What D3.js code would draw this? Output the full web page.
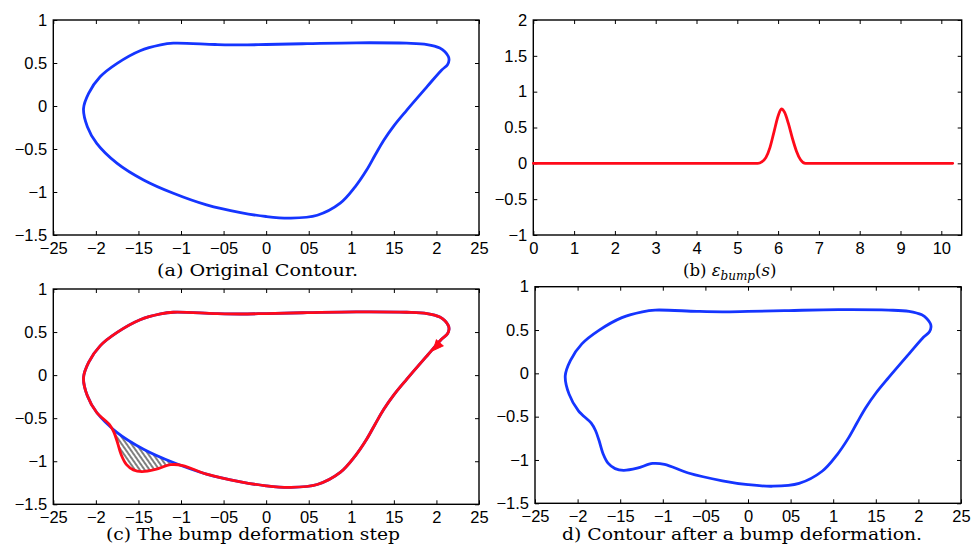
<!DOCTYPE html>
<html>
<head>
<meta charset="utf-8">
<script src="https://cdn.jsdelivr.net/npm/d3@7"></script>
<style>
	body { margin: 0; background: #fff; }
	svg { display: block; }
	.tick text { font-family: 'Liberation Sans', Arial, sans-serif; font-size: 16.5px; fill: #000; }
	.tick line { stroke: #000; stroke-width: 1; }
	.caption { font-family: 'DejaVu Serif', serif; font-size: 16.5px; fill: #000; }
</style>
</head>
<body>
<div id="chart"></div>
<script>
// contour, clockwise on screen, starting top-left
const contourX = [-1.09, -0.6, -0.3, 0.0, 0.48, 1.06, 1.65, 1.89, 2.04, 2.1, 2.14, 2.148, 2.13, 2.062, 1.89, 1.65, 1.5, 1.38, 1.28, 1.18, 1.045, 0.87, 0.6, 0.28, 0.0, -0.3, -0.7, -1.09, -1.44, -1.75, -1.99, -2.1, -2.145, -2.085, -1.95, -1.75, -1.48, -1.24]
const contourY = [0.73, 0.715, 0.71, 0.715, 0.725, 0.735, 0.73, 0.715, 0.675, 0.631, 0.575, 0.535, 0.48, 0.419, 0.225, -0.05, -0.23, -0.4, -0.57, -0.745, -0.94, -1.13, -1.27, -1.303, -1.285, -1.24, -1.15, -1.015, -0.86, -0.667, -0.434, -0.24, -0.03, 0.148, 0.34, 0.496, 0.643, 0.71]

// bump part of the deformed contour (replaces indices 27..29 above)
const bumpFrom = 27
const bumpTo = 30
const bumpX = [-0.98, -1.12, -1.3, -1.46, -1.56, -1.64, -1.7, -1.75, -1.79, -1.84]
const bumpY = [-1.05, -1.04, -1.095, -1.12, -1.1, -1.04, -0.93, -0.77, -0.66, -0.575]

// arrow on the deformed contour in (c)
const arrowAt = [2.0, 0.33]

// epsilon_bump(s), panel (b)
const epsS = [0, 5.5, 5.6, 5.7, 5.8, 5.9, 6.0, 6.08, 6.16, 6.25, 6.35, 6.45, 6.55, 6.67, 10.28]
const epsV = [0, 0, 0.02, 0.08, 0.22, 0.44, 0.66, 0.76, 0.71, 0.56, 0.35, 0.17, 0.05, 0, 0]

const contourXTicks = [-2.5, -2, -1.5, -1, -0.5, 0, 0.5, 1, 1.5, 2, 2.5]
const contourXLabels = ['−25', '−2', '−15', '−1', '−05', '0', '05', '1', '15', '2', '25']
const contourYTicks = [-1.5, -1, -0.5, 0, 0.5, 1]
const contourYLabels = ['−1.5', '−1', '−0.5', '0', '0.5', '1']
const epsXTicks = [0, 1, 2, 3, 4, 5, 6, 7, 8, 9, 10]
const epsXLabels = ['0', '1', '2', '3', '4', '5', '6', '7', '8', '9', '10']
const epsYTicks = [-1, -0.5, 0, 0.5, 1, 1.5, 2]
const epsYLabels = ['−1', '−0.5', '0', '0.5', '1', '1.5', '2']

const blue = '#1535ff'
const red = '#ff0a1a'

const svg = d3.select('#chart').append('svg').attr('width', 979).attr('height', 549)

const defs = svg.append('defs')
const hatch = defs
	.append('pattern')
	.attr('id', 'hatch')
	.attr('patternUnits', 'userSpaceOnUse')
	.attr('width', 4)
	.attr('height', 10)
	.attr('patternTransform', 'rotate(-35)')
hatch.append('line').attr('x1', 1).attr('x2', 1).attr('y1', 0).attr('y2', 10).attr('stroke', '#000').attr('stroke-width', 1)

function panel(box, xDomain, yDomain, xTicks, xLabels, yTicks, yLabels) {
	const g = svg.append('g')
	const x = d3.scaleLinear().domain(xDomain).range([box.left, box.right])
	const y = d3.scaleLinear().domain(yDomain).range([box.bottom, box.top])
	const ax = (axis, tr) =>
		g.append('g').attr('transform', tr).call(axis).call((s) => s.select('.domain').remove())

	ax(d3.axisBottom(x).tickValues(xTicks).tickSize(-4).tickPadding(7).tickFormat((d, i) => xLabels[i]), `translate(0,${box.bottom})`)
	ax(d3.axisTop(x).tickValues(xTicks).tickSize(-4).tickFormat(''), `translate(0,${box.top})`)
	ax(d3.axisLeft(y).tickValues(yTicks).tickSize(-4).tickPadding(6).tickFormat((d, i) => yLabels[i]), `translate(${box.left},0)`)
	ax(d3.axisRight(y).tickValues(yTicks).tickSize(-4).tickFormat(''), `translate(${box.right},0)`)

	g.append('rect')
		.attr('x', box.left)
		.attr('y', box.top)
		.attr('width', box.right - box.left)
		.attr('height', box.bottom - box.top)
		.attr('fill', 'none')
		.attr('stroke', '#000')
		.attr('stroke-width', 1.4)
	return { g, x, y }
}

const original = contourX.map((d, i) => [d, contourY[i]])
const deformed = original
	.slice(0, bumpFrom)
	.concat(bumpX.map((d, i) => [d, bumpY[i]]))
	.concat(original.slice(bumpTo))

const contourPath = (x, y) =>
	d3.line().x((d) => x(d[0])).y((d) => y(d[1])).curve(d3.curveCatmullRomClosed.alpha(0.5))

function strokePath(g, d, color) {
	g.append('path')
		.attr('d', d)
		.attr('fill', 'none')
		.attr('stroke', color)
		.attr('stroke-width', 2.8)
		.attr('stroke-linejoin', 'round')
		.attr('stroke-linecap', 'round')
}

// (a)
const pa = panel({ left: 53.3, right: 479, top: 20, bottom: 235 }, [-2.5, 2.5], [-1.5, 1], contourXTicks, contourXLabels, contourYTicks, contourYLabels)
strokePath(pa.g, contourPath(pa.x, pa.y)(original), blue)

// (b)
const pb = panel({ left: 533.3, right: 961.7, top: 20, bottom: 235 }, [0, 10.5], [-1, 2], epsXTicks, epsXLabels, epsYTicks, epsYLabels)
strokePath(
	pb.g,
	d3.line().x((d, i) => pb.x(epsS[i])).y((d) => pb.y(d)).curve(d3.curveMonotoneX)(epsV),
	red
)

// (c)
const pc = panel({ left: 53.3, right: 479, top: 289, bottom: 504.3 }, [-2.5, 2.5], [-1.5, 1], contourXTicks, contourXLabels, contourYTicks, contourYLabels)
const lineC = contourPath(pc.x, pc.y)
const mask = defs.append('mask').attr('id', 'outsideOriginal')
mask.append('rect').attr('width', 979).attr('height', 549).attr('fill', '#fff')
mask.append('path').attr('d', lineC(original)).attr('fill', '#000')
pc.g.append('path').attr('d', lineC(deformed)).attr('fill', 'url(#hatch)').attr('mask', 'url(#outsideOriginal)')
strokePath(pc.g, lineC(original), blue)
strokePath(pc.g, lineC(deformed), red)

// arrow head pointing along the contour direction
const ai = 14
const ang = Math.atan2(pc.y(contourY[ai]) - pc.y(contourY[ai - 1]), pc.x(contourX[ai]) - pc.x(contourX[ai - 1])) * 180 / Math.PI
pc.g.append('path')
	.attr('d', 'M5,0 L-5,-4.5 L-5,4.5 Z')
	.attr('fill', red)
	.attr('stroke', red)
	.attr('stroke-width', 1)
	.attr('transform', `translate(${pc.x(arrowAt[0])},${pc.y(arrowAt[1])}) rotate(${ang})`)

// (d)
const pd = panel({ left: 535, right: 961, top: 286.7, bottom: 503.3 }, [-2.5, 2.5], [-1.5, 1], contourXTicks, contourXLabels, contourYTicks, contourYLabels)
strokePath(pd.g, contourPath(pd.x, pd.y)(deformed), blue)

// captions
const caption = (x, y, text, len) =>
	svg.append('text')
		.attr('class', 'caption')
		.attr('x', x)
		.attr('y', y)
		.attr('textLength', len)
		.attr('lengthAdjust', 'spacingAndGlyphs')
		.text(text)

caption(157, 276, '(a) Original Contour.', 201)
caption(106, 540, '(c) The bump deformation step', 294)
caption(562, 540, 'd) Contour after a bump deformation.', 360)

const capB = svg.append('text').attr('class', 'caption').attr('x', 683).attr('y', 276)
capB.append('tspan').text('(b) ')
capB.append('tspan').attr('font-style', 'italic').text('ε')
capB.append('tspan').attr('font-style', 'italic').attr('font-size', 12).attr('dy', 4).text('bump')
capB.append('tspan').attr('dy', -4).text('(')
capB.append('tspan').attr('font-style', 'italic').text('s')
capB.append('tspan').text(')')
</script>
</body>
</html>
